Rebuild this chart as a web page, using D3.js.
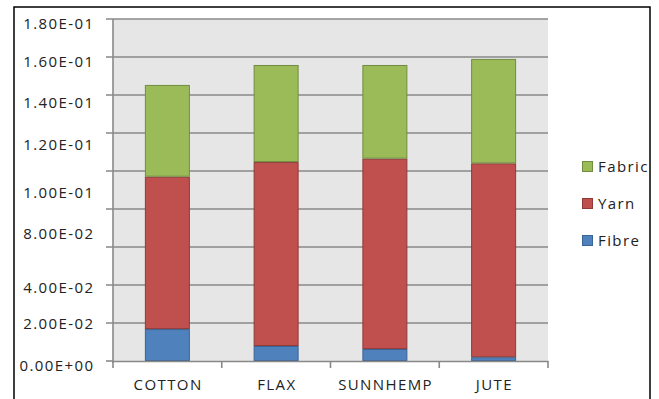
<!DOCTYPE html>
<html>
<head>
<meta charset="utf-8">
<script src="https://cdn.jsdelivr.net/npm/d3@7"></script>
<style>
  html, body { margin: 0; padding: 0; background: #fff; }
  svg { display: block; font-family: "Open Sans", sans-serif; }
</style>
</head>
<body>
<svg id="chart" width="659" height="399"></svg>
<script>
// Fibres and their per-stage values (stacked bottom to top: Fibre, Yarn, Fabric)
const categories = ["COTTON", "FLAX", "SUNNHEMP", "JUTE"];
const fibre  = [0.0168, 0.0079, 0.0063, 0.0020];
const yarn   = [0.0802, 0.0968, 0.1002, 0.1020];
const fabric = [0.0483, 0.0511, 0.0493, 0.0550];

const seriesNames = ["Fibre", "Yarn", "Fabric"];
const seriesColors = { Fibre: "#4F81BD", Yarn: "#C0504D", Fabric: "#9BBB59" };
const seriesStroke = { Fibre: "#3A6495", Yarn: "#8E3B39", Fabric: "#718C40" };

// Gridline values and the axis labels with the value each label sits beside
const gridValues = d3.range(0, 0.1801, 0.02);
const tickLabels   = ["1.80E-01", "1.60E-01", "1.40E-01", "1.20E-01", "1.00E-01", "8.00E-02", "4.00E-02", "2.00E-02", "0.00E+00"];
const tickLabelAt  = [0.178, 0.158, 0.136, 0.114, 0.089, 0.067, 0.039, 0.020, -0.002];

const FONT = "'Open Sans', sans-serif";
const FONT_SIZE = 15;
const SPACING = 1.4;
const svg = d3.select("#chart");
const plot = { left: 113, right: 548, top: 19, bottom: 361 };

// Outer frame (open at the bottom edge)
svg.append("path")
  .attr("d", "M14,402 L14,7 L650,7 L650,402")
  .attr("fill", "none").attr("stroke", "#000").attr("stroke-width", 1.5);

const x = d3.scaleBand().domain(categories).range([plot.left, plot.right]).paddingInner(0).paddingOuter(0);
const y = d3.scaleLinear().domain([0, 0.18]).range([plot.bottom, plot.top]);

// Plot area background
svg.append("rect")
  .attr("x", plot.left).attr("y", plot.top)
  .attr("width", plot.right - plot.left).attr("height", plot.bottom - plot.top)
  .attr("fill", "#e6e6e6");

// Horizontal gridlines with small ticks to the left of the axis
const grid = svg.append("g");
grid.selectAll("line.grid").data(gridValues.filter(v => v > 0)).join("line")
  .attr("x1", plot.left - 7).attr("x2", plot.right)
  .attr("y1", d => y(d)).attr("y2", d => y(d))
  .attr("stroke", "#898989").attr("stroke-width", 1.6);

// Stacked bars
const rows = categories.map((c, i) => ({ cat: c, Fibre: fibre[i], Yarn: yarn[i], Fabric: fabric[i] }));
const stacked = d3.stack().keys(seriesNames)(rows);
const barW = 45;
svg.append("g").selectAll("g").data(stacked).join("g")
  .attr("fill", d => seriesColors[d.key])
  .attr("stroke", d => seriesStroke[d.key])
  .selectAll("rect").data(d => d).join("rect")
    .attr("x", d => x(d.data.cat) + x.bandwidth() / 2 - barW / 2 + 0.5)
    .attr("width", barW - 1)
    .attr("y", d => y(d[1]) + 0.5)
    .attr("height", d => Math.max(0, y(d[0]) - y(d[1]) - 1))
    .attr("stroke-width", 1);

// Y axis line and labels
const yAxis = d3.axisLeft(y).tickValues(tickLabelAt).tickSize(0).tickPadding(0)
  .tickFormat((d, i) => tickLabels[i]);
const gy = svg.append("g").attr("transform", `translate(${plot.left},0)`).call(yAxis);
gy.select(".domain").remove();
gy.selectAll("text")
  .attr("x", -20 + SPACING).attr("dy", "0.35em")
  .attr("font-size", FONT_SIZE).attr("font-family", FONT)
  .attr("letter-spacing", SPACING)
  .attr("fill", "#222");
svg.append("line")
  .attr("x1", plot.left).attr("x2", plot.left)
  .attr("y1", plot.top).attr("y2", plot.bottom + 2)
  .attr("stroke", "#898989").attr("stroke-width", 1.6);
svg.append("line")
  .attr("x1", plot.left - 7).attr("x2", plot.left)
  .attr("y1", y(0)).attr("y2", y(0))
  .attr("stroke", "#898989").attr("stroke-width", 1.6);

// X axis line with ticks between categories
const xAxis = d3.axisBottom(x).tickSize(0).tickPadding(18);
const gx = svg.append("g").attr("transform", `translate(0,${plot.bottom})`).call(xAxis);
gx.select(".domain").attr("stroke", "#898989").attr("stroke-width", 1.6);
gx.selectAll("text")
  .attr("font-size", FONT_SIZE).attr("font-family", FONT)
  .attr("letter-spacing", SPACING)
  .attr("dx", SPACING / 2)
  .attr("fill", "#222");
const boundaries = categories.map(c => x(c)).concat([x.range()[1]]);
svg.append("g").selectAll("line").data(boundaries).join("line")
  .attr("x1", d => d).attr("x2", d => d)
  .attr("y1", plot.bottom).attr("y2", plot.bottom + 7)
  .attr("stroke", "#898989").attr("stroke-width", 1.6);

// Legend (top to bottom: Fabric, Yarn, Fibre)
const legendOrder = ["Fabric", "Yarn", "Fibre"];
const legendY = d3.scalePoint().domain(legendOrder).range([167, 241]);
const lg = svg.append("g").selectAll("g").data(legendOrder).join("g")
  .attr("transform", d => `translate(582,${legendY(d)})`);
lg.append("rect")
  .attr("x", 0.5).attr("y", -5.5).attr("width", 10).attr("height", 10)
  .attr("fill", d => seriesColors[d]).attr("stroke", d => seriesStroke[d]);
lg.append("text")
  .attr("x", 16).attr("y", 0).attr("dy", "0.35em")
  .attr("font-size", FONT_SIZE).attr("font-family", FONT).attr("fill", "#222")
  .attr("letter-spacing", SPACING)
  .text(d => d);
</script>
</body>
</html>
